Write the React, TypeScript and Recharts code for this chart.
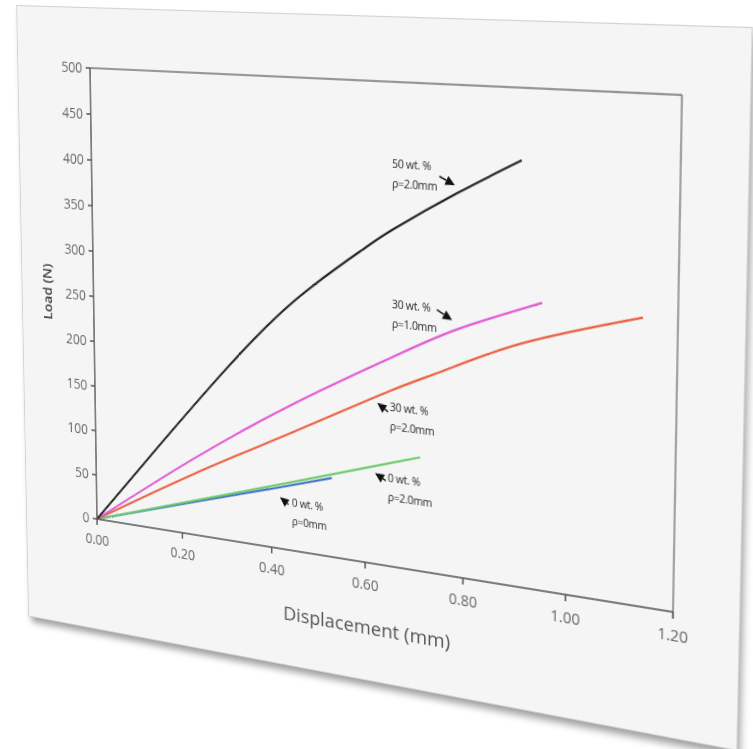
import React from 'react';
import { LineChart, Line, XAxis, YAxis, ReferenceLine, ReferenceDot, Label } from 'recharts';

// ---------- data ----------
const xTicks = [0, 0.2, 0.4, 0.6, 0.8, 1.0, 1.2];
const yTicks = [0, 50, 100, 150, 200, 250, 300, 350, 400, 450, 500];

const wt50rho20: [number, number][] = [[0, 0], [0.155, 97], [0.306, 189], [0.453, 268], [0.594, 327], [0.661, 352], [0.784, 392], [0.909, 429]];
const wt30rho10: [number, number][] = [[0, 0], [0.23, 85], [0.452, 159], [0.651, 218], [0.786, 255], [0.95, 290]];
const wt30rho20: [number, number][] = [[0, 0], [0.23, 68], [0.452, 129], [0.651, 184], [0.758, 211], [0.914, 248], [1.137, 285]];
const wt0rho20: [number, number][] = [[0, 0], [0.229, 38], [0.451, 75], [0.662, 110.5], [0.713, 119]];
const wt0rho0: [number, number][] = [[0, 0], [0.25, 40], [0.4, 63.5], [0.53, 84.5]];

const annoText = [
  ['50 wt. %', 'ρ=2.0mm'],
  ['30 wt. %', 'ρ=1.0mm'],
  ['30 wt. %', 'ρ=2.0mm'],
  ['0 wt. %', 'ρ=2.0mm'],
  ['0 wt. %', 'ρ=0mm'],
];
const annoTextX = [0.655, 0.655, 0.651, 0.647, 0.4446];
const annoTextY = [418, 274.7, 168.4, 93.9, 52.5];
const annoTipX = [0.78, 0.776, 0.625, 0.6205, 0.4186];
const annoTipY = [400, 264, 169.9, 96.2, 55.9];

// ---------- layout ----------
const CARD_W = 732;
const CARD_H = 621;
const PLOT = { left: 84, top: 58, width: 590, height: 450 };
const QUAD: [number, number][] = [[90, 68], [682, 95], [673, 612], [97, 519]];
const TAIL: [number, number][] = [[-15, -7], [-15, -8], [11, 7], [11, 6], [9, 6]];

const toPts = (p: [number, number][]) => p.map(([x, y]) => ({ x, y }));

function homographyCss(): string {
  const [[x0, y0], [x1, y1], [x2, y2], [x3, y3]] = QUAD;
  const dx1 = x1 - x2, dx2 = x3 - x2, dx3 = x0 - x1 + x2 - x3;
  const dy1 = y1 - y2, dy2 = y3 - y2, dy3 = y0 - y1 + y2 - y3;
  const den = dx1 * dy2 - dx2 * dy1;
  const g = (dx3 * dy2 - dx2 * dy3) / den;
  const h = (dx1 * dy3 - dx3 * dy1) / den;
  const a = x1 - x0 + g * x1, b = x3 - x0 + h * x3, c = x0;
  const d = y1 - y0 + g * y1, e = y3 - y0 + h * y3, f = y0;
  const W = PLOT.width, H = PLOT.height, L = PLOT.left, T = PLOT.top;
  const m00 = a / W, m01 = b / H, m02 = -a * L / W - b * T / H + c;
  const m10 = d / W, m11 = e / H, m12 = -d * L / W - e * T / H + f;
  const m20 = g / W, m21 = h / H, m22 = -g * L / W - h * T / H + 1;
  return `matrix3d(${m00},${m10},0,${m20},${m01},${m11},0,${m21},0,0,1,0,${m02},${m12},0,${m22})`;
}

const FONT = "'Open Sans', 'DejaVu Sans', sans-serif";

const textShape = (lines: string[]) => (props: any) => (
  <g>
    {lines.map((t, i) => (
      <text key={i} x={props.cx} y={props.cy + i * 18} dominantBaseline="central" fontSize={10.5}
        letterSpacing={-0.3} fill="#2a2a2a" fontFamily={FONT}>{t}</text>
    ))}
  </g>
);

const arrowShape = (dx: number, dy: number) => (props: any) => {
  const { cx, cy } = props;
  const len = Math.hypot(dx, dy);
  const ux = -dx / len, uy = -dy / len;
  const hl = 9, hw = 4.5;
  const bx = cx - ux * hl, by = cy - uy * hl;
  const px = -uy, py = ux;
  return (
    <g>
      <line x1={cx + dx} y1={cy + dy} x2={bx} y2={by} stroke="#111" strokeWidth={1.4} />
      <polygon points={`${cx},${cy} ${bx + px * hw},${by + py * hw} ${bx - px * hw},${by - py * hw}`} fill="#111" />
    </g>
  );
};

const series = [
  { key: 'b', data: wt0rho0, color: '#3d6fc6' },
  { key: 'g', data: wt0rho20, color: '#6ccb6c' },
  { key: 'r', data: wt30rho20, color: '#ea6040' },
  { key: 'm', data: wt30rho10, color: '#e05ad2' },
  { key: 'k', data: wt50rho20, color: '#222222' },
];

export default function App() {
  return (
    <div style={{ position: 'absolute', left: 0, top: 0, width: 753, height: 749, background: '#ffffff', overflow: 'hidden' }}>
      <div
        style={{
          position: 'absolute', left: 0, top: 0, width: CARD_W, height: CARD_H,
          background: '#f5f5f5', transformOrigin: '0 0', transform: homographyCss(),
          boxShadow: '0 0 0 1px #d2d2d2, 3px 6px 7px rgba(0,0,0,0.38)', fontFamily: FONT,
        }}
      >
        <LineChart width={CARD_W} height={CARD_H} margin={{ top: PLOT.top, right: CARD_W - PLOT.left - PLOT.width, left: 20, bottom: 46 }}>
          <XAxis type="number" dataKey="x" domain={[0, 1.2]} ticks={xTicks} interval={0}
            tickFormatter={(v: number) => v.toFixed(2)} height={67} tickSize={6} tickMargin={10}
            stroke="#555" strokeWidth={1.5} tick={{ fill: '#666', fontSize: 14, fontFamily: FONT }} allowDataOverflow>
            <Label value="Displacement (mm)" position="insideBottom" offset={-2} fill="#555" fontSize={19} fontFamily={FONT} />
          </XAxis>
          <YAxis type="number" dataKey="y" domain={[0, 500]} ticks={yTicks} interval={0} width={64}
            tickSize={5} tickMargin={4} stroke="#555" strokeWidth={1.5}
            tick={{ fill: '#666', fontSize: 14, fontFamily: FONT }} allowDataOverflow>
            <Label value="Load (N)" angle={-90} position="insideLeft" offset={10} fill="#444" fontSize={14}
              fontWeight={600} fontFamily={FONT} style={{ textAnchor: 'middle' }} />
          </YAxis>
          <ReferenceLine y={500} stroke="#777" strokeWidth={1.3} />
          <ReferenceLine x={1.2} stroke="#777" strokeWidth={1.3} />
          {series.map((s) => (
            <Line key={s.key} data={toPts(s.data)} dataKey="y" type="natural" stroke={s.color}
              strokeWidth={2} dot={false} isAnimationActive={false} />
          ))}
          {annoText.map((lines, i) => (
            <ReferenceDot key={'t' + i} x={annoTextX[i]} y={annoTextY[i]} r={0} shape={textShape(lines)} />
          ))}
          {annoText.map((_, i) => (
            <ReferenceDot key={'a' + i} x={annoTipX[i]} y={annoTipY[i]} r={0} shape={arrowShape(TAIL[i][0], TAIL[i][1])} />
          ))}
        </LineChart>
      </div>
    </div>
  );
}
